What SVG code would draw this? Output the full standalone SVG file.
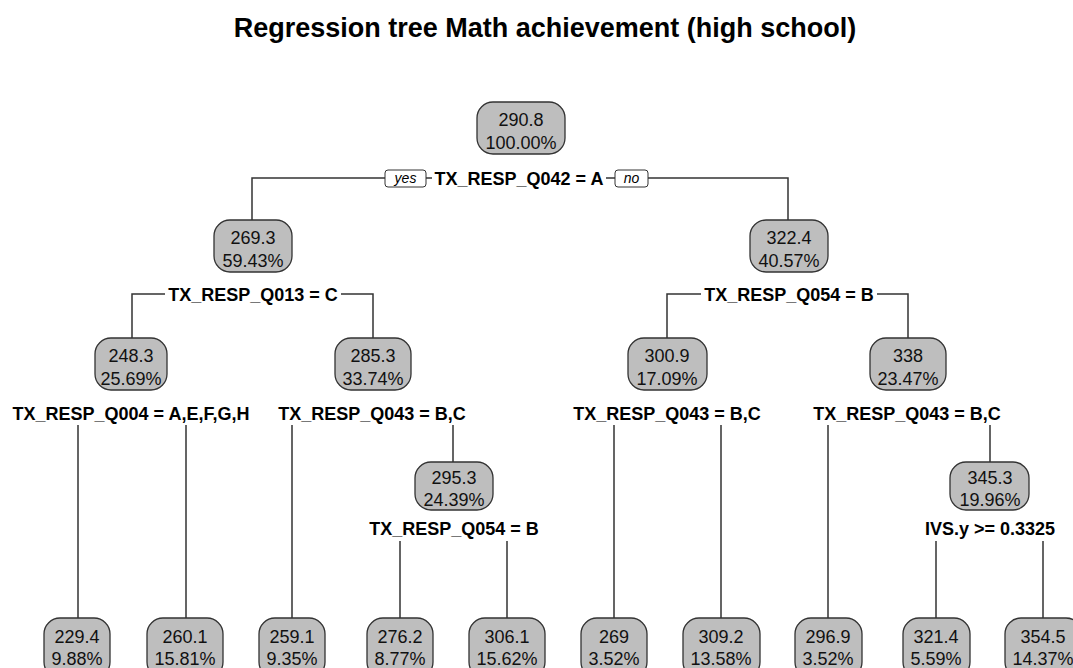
<svg xmlns="http://www.w3.org/2000/svg" width="1073" height="668" viewBox="0 0 1073 668">
<style>
.bg{fill:#ffffff}
.box{fill:#BEBEBE;stroke:#333333;stroke-width:1.3}
.nt{font-family:"Liberation Sans",Arial,sans-serif;font-size:18px;fill:#111111;text-anchor:middle}
.lab{font-family:"Liberation Sans",Arial,sans-serif;font-size:18px;font-weight:bold;fill:#000000;text-anchor:middle}
.yn{fill:#ffffff;stroke:#333333;stroke-width:1}
.ynt{font-family:"Liberation Sans",Arial,sans-serif;font-size:14px;font-style:italic;fill:#000000;text-anchor:middle}
.title{font-family:"Liberation Sans",Arial,sans-serif;font-size:27px;font-weight:bold;fill:#000000;text-anchor:middle}
.br{fill:none;stroke:#333333;stroke-width:1.5}
</style>
<rect class="bg" x="0" y="0" width="1073" height="668"/>
<text class="title" x="545" y="37">Regression tree Math achievement (high school)</text>

<g id="connectors">
<path class="br" d="M252,220 V178 H385 M426,178 H432 M606,178 H615 M648,178 H788 V220"/>
<path class="br" d="M132,338 V294 H165 M341,294 H373 V338"/>
<path class="br" d="M667,338 V294 H701 M877,294 H908 V338"/>
<path class="br" d="M78,425 V618 M186,425 V618"/>
<path class="br" d="M292,425 V618 M453,425 V462"/>
<path class="br" d="M614,425 V618 M721,425 V618"/>
<path class="br" d="M828,425 V618 M990,425 V462"/>
<path class="br" d="M400,541 V618 M507,541 V618"/>
<path class="br" d="M936,541 V618 M1043,541 V618"/>
<rect class="yn" x="385" y="170" width="41" height="17" rx="3"/>
<text class="ynt" x="405.5" y="183">yes</text>
<rect class="yn" x="615" y="170" width="33" height="17" rx="3"/>
<text class="ynt" x="631.5" y="183">no</text>
</g>

<g id="n1">
<rect class="box" x="477" y="102" width="88" height="52" rx="16"/>
<text class="nt" x="521" y="126">290.8</text>
<text class="nt" x="521" y="149">100.00%</text>
<text class="lab" x="519" y="184.5">TX_RESP_Q042 = A</text>
</g>
<g id="n2">
<rect class="box" x="214" y="220" width="78" height="52" rx="16"/>
<text class="nt" x="253" y="244">269.3</text>
<text class="nt" x="253" y="267">59.43%</text>
<text class="lab" x="253" y="300.5">TX_RESP_Q013 = C</text>
</g>
<g id="n3">
<rect class="box" x="750" y="220" width="78" height="52" rx="16"/>
<text class="nt" x="789" y="244">322.4</text>
<text class="nt" x="789" y="267">40.57%</text>
<text class="lab" x="789" y="300.5">TX_RESP_Q054 = B</text>
</g>
<g id="n4">
<rect class="box" x="95" y="338" width="72" height="52" rx="16"/>
<text class="nt" x="131" y="362">248.3</text>
<text class="nt" x="131" y="385">25.69%</text>
<text class="lab" x="131" y="419.5">TX_RESP_Q004 = A,E,F,G,H</text>
</g>
<g id="n5">
<rect class="box" x="335" y="338" width="76" height="52" rx="16"/>
<text class="nt" x="373" y="362">285.3</text>
<text class="nt" x="373" y="385">33.74%</text>
<text class="lab" x="372" y="419.5">TX_RESP_Q043 = B,C</text>
</g>
<g id="n6">
<rect class="box" x="628" y="338" width="79" height="52" rx="16"/>
<text class="nt" x="667" y="362">300.9</text>
<text class="nt" x="667" y="385">17.09%</text>
<text class="lab" x="667" y="419.5">TX_RESP_Q043 = B,C</text>
</g>
<g id="n7">
<rect class="box" x="870" y="338" width="76" height="52" rx="16"/>
<text class="nt" x="908" y="362">338</text>
<text class="nt" x="908" y="385">23.47%</text>
<text class="lab" x="907" y="419.5">TX_RESP_Q043 = B,C</text>
</g>
<g id="n8">
<rect class="box" x="415" y="462" width="78" height="48" rx="16"/>
<text class="nt" x="454" y="484">295.3</text>
<text class="nt" x="454" y="506">24.39%</text>
<text class="lab" x="454" y="534.5">TX_RESP_Q054 = B</text>
</g>
<g id="n9">
<rect class="box" x="950" y="462" width="79" height="48" rx="16"/>
<text class="nt" x="990" y="484">345.3</text>
<text class="nt" x="990" y="506">19.96%</text>
<text class="lab" x="990" y="534.5">IVS.y &gt;= 0.3325</text>
</g>

<g id="leaf1"><rect class="box" x="44" y="618" width="66" height="60" rx="16"/><text class="nt" x="77" y="643">229.4</text><text class="nt" x="77" y="665">9.88%</text></g>
<g id="leaf2"><rect class="box" x="147" y="618" width="76" height="60" rx="16"/><text class="nt" x="185" y="643">260.1</text><text class="nt" x="185" y="665">15.81%</text></g>
<g id="leaf3"><rect class="box" x="259" y="618" width="66" height="60" rx="16"/><text class="nt" x="292" y="643">259.1</text><text class="nt" x="292" y="665">9.35%</text></g>
<g id="leaf4"><rect class="box" x="367" y="618" width="66" height="60" rx="16"/><text class="nt" x="400" y="643">276.2</text><text class="nt" x="400" y="665">8.77%</text></g>
<g id="leaf5"><rect class="box" x="469" y="618" width="76" height="60" rx="16"/><text class="nt" x="507" y="643">306.1</text><text class="nt" x="507" y="665">15.62%</text></g>
<g id="leaf6"><rect class="box" x="581" y="618" width="66" height="60" rx="16"/><text class="nt" x="614" y="643">269</text><text class="nt" x="614" y="665">3.52%</text></g>
<g id="leaf7"><rect class="box" x="683" y="618" width="77" height="60" rx="16"/><text class="nt" x="721" y="643">309.2</text><text class="nt" x="721" y="665">13.58%</text></g>
<g id="leaf8"><rect class="box" x="795" y="618" width="67" height="60" rx="16"/><text class="nt" x="828" y="643">296.9</text><text class="nt" x="828" y="665">3.52%</text></g>
<g id="leaf9"><rect class="box" x="903" y="618" width="67" height="60" rx="16"/><text class="nt" x="936" y="643">321.4</text><text class="nt" x="936" y="665">5.59%</text></g>
<g id="leaf10"><rect class="box" x="1005" y="618" width="77" height="60" rx="16"/><text class="nt" x="1043" y="643">354.5</text><text class="nt" x="1043" y="665">14.37%</text></g>
</svg>
